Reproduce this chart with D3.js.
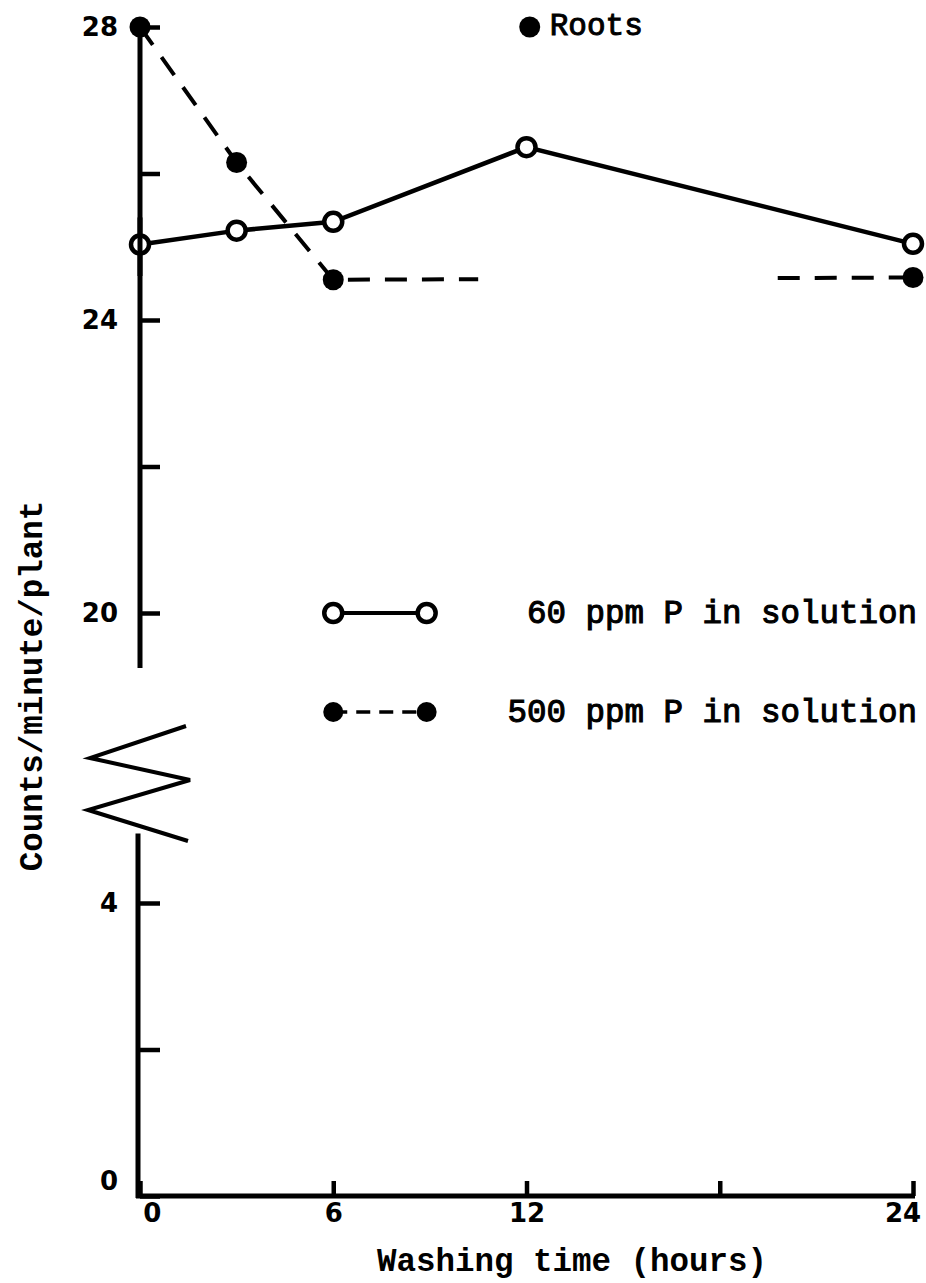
<!DOCTYPE html>
<html>
<head>
<meta charset="utf-8">
<script src="https://cdn.jsdelivr.net/npm/d3@7"></script>
<style>
  body { margin: 0; background: #fff; }
  svg { display: block; }
</style>
</head>
<body>
<svg id="chart" width="926" height="1283"></svg>
<script>
// washing time (hours)
var hours60 = [0, 3, 6, 12, 24];
var counts60 = [25.03, 25.22, 25.34, 26.36, 25.04];
var hours500 = [0, 3, 6, 24];
var counts500 = [28.0, 26.15, 24.55, 24.58];
// part of the 500 ppm line left out between these hours
var gap500 = [10.5, 19.8];
var xTicks = [0, 6, 12, 18, 24];
var xLabels = ["0", "6", "12", "", "24"];
var yTopTicks = [20, 22, 24, 26, 28];
var yTopLabels = ["20", "", "24", "", "28"];
var yBotTicks = [0, 2, 4];
var yBotLabels = ["0", "", "4"];
var legendNames = ["60 ppm P in solution", "500 ppm P in solution"];

var svg = d3.select("#chart");
var mono = "'Liberation Mono', 'Courier New', monospace";
var sans = "'DejaVu Sans', sans-serif";

var x = d3.scaleLinear().domain([0, 24]).range([140, 913]);
var yTop = d3.scaleLinear().domain([20, 28]).range([613, 27]);
var yBot = d3.scaleLinear().domain([0, 4]).range([1196, 903]);

// axes ----------------------------------------------------------
var gTop = svg.append("g").attr("transform", "translate(" + x(0) + ",0)")
  .call(d3.axisLeft(yTop).tickValues(yTopTicks).tickSize(-20).tickPadding(22)
    .tickFormat(function(d, i) { return yTopLabels[i]; }));
var gBot = svg.append("g").attr("transform", "translate(" + x(0) + ",0)")
  .call(d3.axisLeft(yBot).tickValues(yBotTicks).tickSize(-20).tickPadding(22)
    .tickFormat(function(d, i) { return yBotLabels[i]; }));
var gX = svg.append("g").attr("transform", "translate(0," + yBot(0) + ")")
  .call(d3.axisBottom(x).tickValues(xTicks).tickSize(-15).tickPadding(8)
    .tickFormat(function(d, i) { return xLabels[i]; }));

[gTop, gBot, gX].forEach(function(g) {
  g.select(".domain").remove();
  g.selectAll(".tick line").attr("stroke", "#000").attr("stroke-width", 4.5);
  g.selectAll(".tick text").attr("fill", "#000").attr("font-family", sans)
    .attr("font-weight", "bold").attr("font-size", 26);
});
gBot.selectAll(".tick text").filter(function(d) { return d === 0; }).attr("dy", "-0.25em");
gX.selectAll(".tick text").filter(function(d) { return d === 0; }).attr("dx", "0.45em");
gX.selectAll(".tick text").filter(function(d) { return d === 24; }).attr("dx", "-0.4em");

// axis lines with the break
svg.append("line").attr("x1", x(0)).attr("x2", x(0)).attr("y1", yTop(28)).attr("y2", yTop(19.25))
  .attr("stroke", "#000").attr("stroke-width", 5);
svg.append("line").attr("x1", x(0) - 2).attr("x2", x(0) - 2).attr("y1", yBot(4.95)).attr("y2", yBot(0) + 2)
  .attr("stroke", "#000").attr("stroke-width", 5);
svg.append("line").attr("x1", x(0) - 4).attr("x2", x(24) + 2).attr("y1", yBot(0)).attr("y2", yBot(0))
  .attr("stroke", "#000").attr("stroke-width", 5);

var zig = [[46, 726], [-50, 758], [50, 780], [-52, 810], [48, 841]];
svg.append("path")
  .attr("d", d3.line().x(function(d) { return x(0) + d[0]; }).y(function(d) { return d[1]; })(zig))
  .attr("fill", "none").attr("stroke", "#000").attr("stroke-width", 4).attr("stroke-linejoin", "miter");

// data lines ------------------------------------------------------
var line = d3.line()
  .x(function(d) { return x(d[0]); })
  .y(function(d) { return yTop(d[1]); });
var gapLine = d3.line()
  .defined(function(d) { return d[0] <= gap500[0] || d[0] >= gap500[1]; })
  .x(function(d) { return x(d[0]); })
  .y(function(d) { return yTop(d[1]); });

var pts60 = hours60.map(function(h, i) { return [h, counts60[i]]; });
var pts500 = hours500.map(function(h, i) { return [h, counts500[i]]; });

// add the gap ends to the 500 ppm line so defined() splits it there
var last = pts500[2], end = pts500[3];
var lerp = function(h) { return last[1] + (end[1] - last[1]) * (h - last[0]) / (end[0] - last[0]); };
var line500 = pts500.slice(0, 3).concat([[gap500[0], lerp(gap500[0])], [14, lerp(14)],
  [gap500[1], lerp(gap500[1])], end]);

svg.append("path").attr("d", line(pts60))
  .attr("fill", "none").attr("stroke", "#000").attr("stroke-width", 4.5);
svg.append("path").attr("d", gapLine(line500))
  .attr("fill", "none").attr("stroke", "#000").attr("stroke-width", 4)
  .attr("stroke-dasharray", "22,15");

svg.selectAll(".m60").data(pts60).enter().append("circle")
  .attr("cx", function(d) { return x(d[0]); }).attr("cy", function(d) { return yTop(d[1]); })
  .attr("r", 9).attr("fill", "#fff").attr("stroke", "#000").attr("stroke-width", 4.5);
svg.selectAll(".m500").data(pts500).enter().append("circle")
  .attr("cx", function(d) { return x(d[0]); }).attr("cy", function(d) { return yTop(d[1]); })
  .attr("r", 10.5).attr("fill", "#000");
// axis drawn over the half-hidden first open marker
svg.append("line").attr("x1", x(0)).attr("x2", x(0)).attr("y1", yTop(25.4)).attr("y2", yTop(24.6))
  .attr("stroke", "#000").attr("stroke-width", 5);

// roots label
svg.append("circle").attr("cx", x(12.1)).attr("cy", yTop(28)).attr("r", 10.5).attr("fill", "#000");
svg.append("text").attr("x", x(12.1) + 20).attr("y", yTop(28) + 8).text("Roots")
  .attr("font-family", mono).attr("font-size", 31)
  .attr("stroke", "#000").attr("stroke-width", 1);

// legend
var legY = [613, 712];
legendNames.forEach(function(name, i) {
  var g = svg.append("g").attr("transform", "translate(0," + legY[i] + ")");
  g.append("line").attr("x1", x(6)).attr("x2", x(8.9))
    .attr("stroke", "#000").attr("stroke-width", i ? 3.5 : 4)
    .attr("stroke-dasharray", i ? "14,9" : null);
  [x(6), x(8.9)].forEach(function(cx) {
    var c = g.append("circle").attr("cx", cx).attr("r", i ? 10 : 9);
    if (i) c.attr("fill", "#000");
    else c.attr("fill", "#fff").attr("stroke", "#000").attr("stroke-width", 4.5);
  });
  g.append("text").attr("x", 917).attr("y", 10).attr("text-anchor", "end").text(name)
    .attr("font-family", mono).attr("font-size", 32.5)
    .attr("stroke", "#000").attr("stroke-width", 1.1);
});

// axis titles
svg.append("text").attr("x", 572).attr("y", 1271).attr("text-anchor", "middle")
  .text("Washing time (hours)")
  .attr("font-family", mono).attr("font-weight", "bold").attr("font-size", 32.5);
svg.append("text").attr("transform", "translate(42,686) rotate(-90)").attr("text-anchor", "middle")
  .text("Counts/minute/plant")
  .attr("font-family", mono).attr("font-weight", "bold").attr("font-size", 32.5);
</script>
</body>
</html>
